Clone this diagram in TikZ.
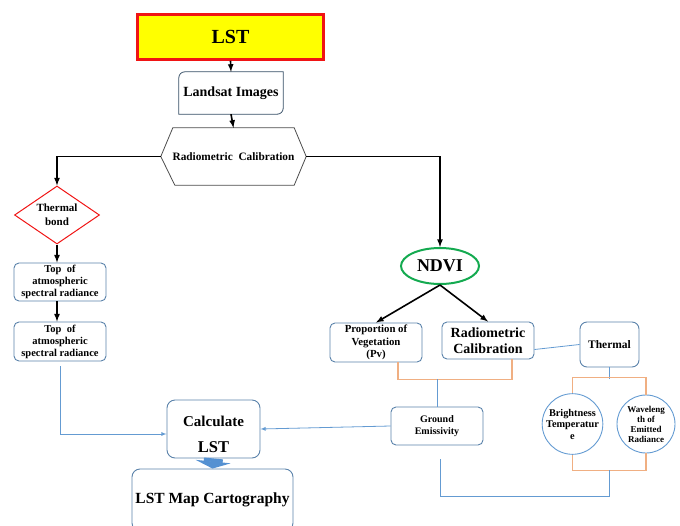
\documentclass[tikz,border=0pt]{standalone}
\usepackage{fontspec}
\setmainfont{Liberation Serif}
\usetikzlibrary{shapes,arrows,arrows.meta,calc}

\definecolor{lstred}{RGB}{240,20,20}
\definecolor{lstyellow}{RGB}{255,255,0}
\definecolor{boxblue}{RGB}{90,130,170}
\definecolor{lineblue}{RGB}{100,155,210}
\definecolor{lineorange}{RGB}{240,175,130}
\definecolor{ndvigreen}{RGB}{20,170,80}
\definecolor{fatblue}{RGB}{85,145,210}

\tikzset{
  rbox/.style={draw=boxblue, line width=0.9pt, rounded corners=5pt, align=center, font=\bfseries, inner sep=1pt},
  blk/.style={->, >=latex, black, line width=1.6pt},
  bline/.style={lineblue, line width=0.8pt},
  oline/.style={lineorange, line width=1.1pt},
  circ/.style={circle, draw=lineblue, line width=0.9pt, minimum size=58, inner sep=0pt, align=center, font=\bfseries},
  fatarrow/.style={fatblue, line width=19pt, -{Triangle[width=35pt, length=7pt]}}
}

\begin{document}
\begin{tikzpicture}[x=1pt, y=-1pt]
\useasboundingbox (0,0) rectangle (680,525);
\clip (0,0) rectangle (680,525);

% top column
\node [draw=lstred, fill=lstyellow, line width=2.5pt, minimum width=186, minimum height=45, font=\fontsize{20}{24}\bfseries] (lst) at (230.5,37) {LST};
\node [minimum width=104, minimum height=42, font=\fontsize{14}{16}\bfseries] (land) at (231,93) {Landsat Images};
\draw [boxblue!60!black, line width=0.8pt] (land.south west) [rounded corners=6pt] -- (land.north west) [sharp corners] -- (land.north east) [rounded corners=6pt] -- (land.south east) [sharp corners] -- cycle;
\node [minimum width=145, minimum height=57, font=\fontsize{11.3}{13}\bfseries] (calib) at (233.5,156.5) {Radiometric\ \ Calibration};
\draw [black!70, line width=0.8pt] (calib.west) -- ($(calib.north west)+(12,0)$) -- ($(calib.north east)+(-12,0)$) -- (calib.east) -- ($(calib.south east)+(-12,0)$) -- ($(calib.south west)+(14,0)$) -- cycle;

\draw [blk] (lst.south) -- (land.north);
\draw [blk] (land.south) -- (calib.north);

% left branch
\node [diamond, draw=lstred, line width=1pt, aspect=1.45, minimum width=85, minimum height=58, inner sep=0pt, align=center, font=\fontsize{11}{14}\bfseries] (therm) at (57,215) {Thermal\\bond};
\node [rbox, minimum width=92, minimum height=38, font=\fontsize{10.5}{12}\bfseries] (top1) at (60,282) {Top\ \ of\\atmospheric\\spectral radiance};
\node [rbox, minimum width=92, minimum height=39, font=\fontsize{10.5}{12}\bfseries] (top2) at (60,341.5) {Top\ \ of\\atmospheric\\spectral radiance};

\draw [blk] (calib.west) -| (therm.north);
\draw [blk] (therm.south) -- (therm.south |- top1.north);
\draw [blk] (top1.south -| therm.south) -- (therm.south |- top2.north);

% right branch
\node [ellipse, draw=ndvigreen, line width=2pt, minimum width=78, minimum height=36, inner sep=0pt, font=\fontsize{18}{20}\bfseries] (ndvi) at (440,266) {NDVI};
\node [rbox, minimum width=92, minimum height=39, font=\fontsize{10.8}{12.5}\bfseries] (pv) at (376,342.5) {Proportion of\\Vegetation\\(Pv)};
\node [rbox, minimum width=92, minimum height=37, font=\fontsize{14}{16}\bfseries] (radio) at (488,340.5) {Radiometric\\Calibration};
\node [rbox, rounded corners=7pt, minimum width=59, minimum height=45, font=\fontsize{11.5}{13}\bfseries] (thbox) at (609.5,344.5) {Thermal};
\node [rbox, minimum width=92, minimum height=38, font=\fontsize{10}{12}\bfseries] (gem) at (437,426) {Ground\\Emissivity};
\node [circ, font=\fontsize{10.3}{11.5}\bfseries] (bt) at (572.5,424) {Brightness\\Temperatur\\e};
\node [circ, font=\fontsize{9}{10}\bfseries] (wl) at (646,424) {Waveleng\\th of\\Emitted\\Radiance};

\draw [blk] (calib.east) -| (ndvi.north);
\draw [blk] (ndvi.south) -- (pv.north);
\draw [blk] (ndvi.south) -- (radio.north);
\draw [bline] ([yshift=-9pt]radio.east) -- (thbox.west);

\draw [oline] ([xshift=22pt]pv.south) -- ++(0,17) -| ([xshift=24pt]radio.south);
\draw [bline] (gem.north) -- ++(0,-28);
\draw [bline] (thbox.south) -- ++(0,12);
\draw [oline] (bt.north) -- ++(0,-16) -| (wl.north);
\draw [oline] (bt.south) -- ++(0,16) -| (wl.south);
\coordinate (circjoin) at ($(bt.south)!0.5!(wl.south)+(0,16)$);
\draw [bline] (circjoin) -- ++(0,26) -| ($(gem.south)+(3,14)$);

% result
\node [rbox, rounded corners=8pt, minimum width=93, minimum height=58, inner sep=0pt] (calc) at (213.5,429) {};
\node [font=\fontsize{15}{17}\bfseries] (calctxt) at (213.5,421) {Calculate};
\node [font=\fontsize{16.5}{18}\bfseries] (calclst) at (213.5,447) {LST};
\node [rbox, rounded corners=8pt, minimum width=161, minimum height=62, font=\fontsize{15.5}{18}\bfseries] (map) at (212.5,500) {LST Map Cartography};

\draw [bline, -latex] ($(top2.south)+(0,5)$) |- ([yshift=-5pt]calc.west);
\draw [bline, -latex] (gem.west) -- (calc.east);
\draw [fatarrow] (calc.south) -- (map.north);
\end{tikzpicture}
\end{document}
